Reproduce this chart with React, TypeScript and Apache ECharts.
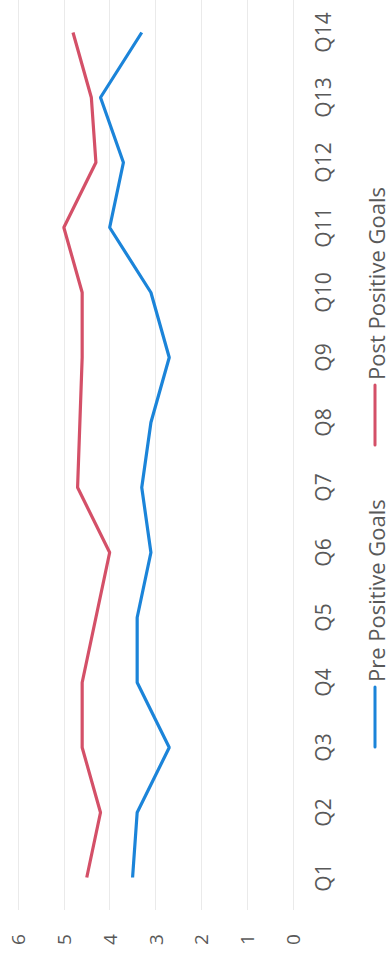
import React, { useEffect, useRef } from "react";
import * as echarts from "echarts";

// Survey questions, plotted bottom (Q1) to top (Q14)
const questions = ["Q1", "Q2", "Q3", "Q4", "Q5", "Q6", "Q7", "Q8", "Q9", "Q10", "Q11", "Q12", "Q13", "Q14"];

// Average scores per question
const prePositiveGoals = [3.5, 3.4, 2.7, 3.4, 3.4, 3.1, 3.3, 3.1, 2.7, 3.1, 4.0, 3.7, 4.2, 3.3];
const postPositiveGoals = [4.5, 4.2, 4.6, 4.6, 4.3, 4.0, 4.7, 4.65, 4.6, 4.6, 5.0, 4.3, 4.4, 4.8];

const seriesNames = ["Pre Positive Goals", "Post Positive Goals"];
const valueMin = 0;
const valueMax = 6;
const valueStep = 1;

const BLUE = "#1b84d9";
const RED = "#d45068";
const TEXT = "#595959";
const FONT = "'Open Sans', 'Liberation Sans', sans-serif";

export default function App() {
  const ref = useRef<HTMLDivElement>(null);

  useEffect(() => {
    if (!ref.current) return;
    const chart = echarts.init(ref.current, null, { renderer: "svg" });

    // Legend drawn vertically, reading bottom to top like the axis labels
    const legendItem = (name: string, color: string, yStart: number) => [
      {
        type: "line",
        shape: { x1: 375, y1: yStart, x2: 375, y2: yStart - 60 },
        style: { stroke: color, lineWidth: 3, lineCap: "round" },
      },
      {
        type: "text",
        x: 376,
        y: yStart - 65,
        rotation: Math.PI / 2,
        style: {
          text: name,
          fill: TEXT,
          fontSize: 22,
          fontFamily: FONT,
          align: "left",
          verticalAlign: "middle",
        },
      },
    ];

    chart.setOption({
      animation: false,
      backgroundColor: "#ffffff",
      grid: { left: 18, right: 97, top: -5, bottom: 44, containLabel: false },
      xAxis: {
        type: "value",
        inverse: true,
        min: valueMin,
        max: valueMax,
        interval: valueStep,
        position: "bottom",
        axisLine: { show: false },
        axisTick: { show: false },
        splitLine: { show: true, lineStyle: { color: "#eaeaea", width: 1 } },
        axisLabel: {
          rotate: 90,
          margin: 24,
          fontSize: 19,
          color: TEXT,
          fontFamily: FONT,
        },
      },
      yAxis: {
        type: "category",
        data: questions,
        position: "right",
        boundaryGap: true,
        axisLine: { show: false },
        axisTick: { show: false },
        splitLine: { show: false },
        axisLabel: {
          rotate: 90,
          margin: 19,
          fontSize: 21,
          color: TEXT,
          fontFamily: FONT,
        },
      },
      series: [
        {
          name: seriesNames[0],
          type: "line",
          data: prePositiveGoals,
          symbol: "none",
          lineStyle: { color: BLUE, width: 3.2 },
          itemStyle: { color: BLUE },
        },
        {
          name: seriesNames[1],
          type: "line",
          data: postPositiveGoals,
          symbol: "none",
          lineStyle: { color: RED, width: 3.2 },
          itemStyle: { color: RED },
        },
      ],
      graphic: [
        ...legendItem(seriesNames[0], BLUE, 747),
        ...legendItem(seriesNames[1], RED, 445),
      ],
    });

    return () => chart.dispose();
  }, []);

  return (
    <div
      ref={ref}
      style={{ position: "fixed", left: 0, top: 0, width: 390, height: 954, background: "#fff" }}
    />
  );
}
